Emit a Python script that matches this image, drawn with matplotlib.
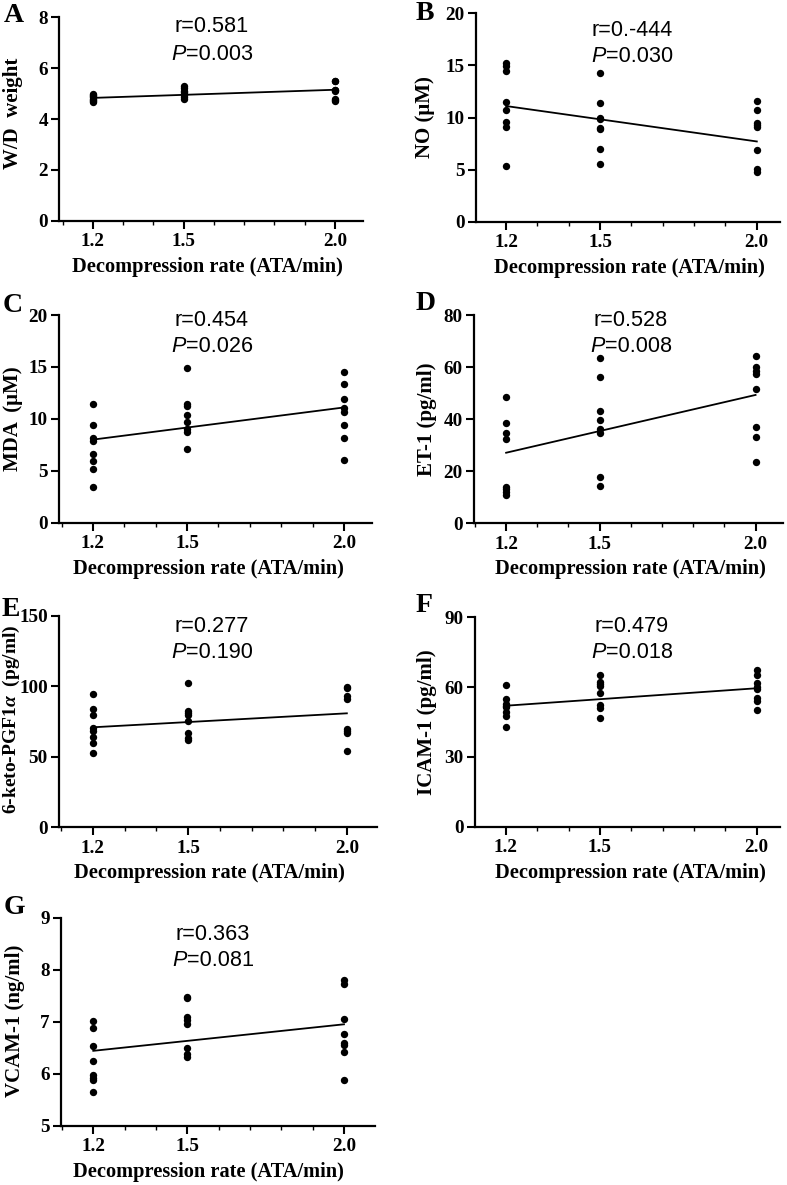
import numpy as np
import matplotlib
matplotlib.use("Agg")
import matplotlib.pyplot as plt
from matplotlib.ticker import FixedLocator
from matplotlib.offsetbox import TextArea, HPacker, AnnotationBbox

plt.rcParams["mathtext.fontset"] = "custom"
plt.rcParams["mathtext.it"] = "Liberation Serif:italic:bold"
plt.rcParams["mathtext.rm"] = "Liberation Serif:bold"
plt.rcParams["mathtext.bf"] = "Liberation Serif:bold"

# ---------------- data ----------------
rates = [1.2, 1.5, 2.0]
x_ticklabels = ["1.2", "1.5", "2.0"]
x_label = "Decompression rate (ATA/min)"

panel_letters = ["A", "B", "C", "D", "E", "F", "G"]
y_labels = ["W/D  weight", "NO (\u03bcM)", "MDA  (\u03bcM)", "ET-1 (pg/ml)",
            "6-keto-PGF1$\\alpha$  (pg/ml)", "ICAM-1 (pg/ml)", "VCAM-1 (ng/ml)"]
r_texts = ["r=0.581", "r=0.-444", "r=0.454", "r=0.528", "r=0.277", "r=0.479", "r=0.363"]
p_texts = ["=0.003", "=0.030", "=0.026", "=0.008", "=0.190", "=0.018", "=0.081"]

y_ticks_A = [0, 2, 4, 6, 8]
y_ticks_B = [0, 5, 10, 15, 20]
y_ticks_C = [0, 5, 10, 15, 20]
y_ticks_D = [0, 20, 40, 60, 80]
y_ticks_E = [0, 50, 100, 150]
y_ticks_F = [0, 30, 60, 90]
y_ticks_G = [5, 6, 7, 8, 9]

# points per group (1.2, 1.5, 2.0)
wd_12 = [4.65, 4.70, 4.75, 4.80, 4.85, 4.90, 4.95, 4.98]
wd_15 = [4.78, 4.85, 4.95, 5.00, 5.05, 5.10, 5.20, 5.28]
wd_20 = [5.50, 5.48, 5.15, 5.13, 5.10, 4.80, 4.75, 4.72]

no_12 = [15.2, 14.9, 14.5, 11.5, 10.7, 9.6, 9.1, 5.3]
no_15 = [14.3, 11.4, 10.0, 9.9, 9.0, 8.9, 7.0, 5.5]
no_20 = [11.6, 10.7, 9.5, 9.3, 9.1, 6.9, 5.1, 4.8]

mda_12 = [11.4, 9.4, 8.2, 7.9, 6.6, 5.9, 5.2, 3.4]
mda_15 = [14.9, 11.4, 11.2, 10.4, 9.7, 9.0, 8.7, 7.1]
mda_20 = [14.5, 13.4, 11.9, 11.0, 10.7, 9.4, 8.2, 6.0]

et_12 = [48.6, 38.7, 34.6, 32.4, 14.1, 13.0, 12.0, 10.9]
et_15 = [63.4, 56.1, 43.3, 39.7, 36.3, 34.8, 17.7, 14.5]
et_20 = [64.3, 60.2, 58.5, 57.4, 51.5, 37.1, 33.0, 23.7]

pgf_12 = [94.3, 83.9, 79.6, 70.2, 68.5, 64.3, 59.5, 52.9]
pgf_15 = [102.0, 82.7, 81.0, 79.6, 75.6, 66.6, 63.5, 61.9]
pgf_20 = [99.7, 98.5, 93.1, 90.7, 69.5, 68.0, 67.1, 54.3]

icam_12 = [60.9, 54.7, 52.8, 52.0, 51.3, 49.5, 47.6, 42.7]
icam_15 = [65.2, 62.3, 61.5, 60.5, 57.6, 52.3, 50.9, 46.6]
icam_20 = [67.4, 65.2, 61.9, 60.0, 59.0, 55.2, 54.0, 50.2]

vcam_12 = [7.01, 6.87, 6.53, 6.24, 5.97, 5.92, 5.88, 5.65]
vcam_15 = [7.48, 7.45, 7.10, 7.03, 6.95, 6.49, 6.38, 6.33]
vcam_20 = [7.80, 7.72, 7.06, 6.76, 6.60, 6.56, 6.42, 5.88]

# regression line values at x=1.2 and x=2.0
fit_A = [4.83, 5.15]
fit_B = [11.1, 7.7]
fit_C = [8.0, 11.1]
fit_D = [27.1, 49.3]
fit_E = [70.9, 80.8]
fit_F = [52.0, 59.5]
fit_G = [6.44, 6.95]

groups = [
    (wd_12, wd_15, wd_20), (no_12, no_15, no_20), (mda_12, mda_15, mda_20),
    (et_12, et_15, et_20), (pgf_12, pgf_15, pgf_20), (icam_12, icam_15, icam_20),
    (vcam_12, vcam_15, vcam_20),
]
fits = [fit_A, fit_B, fit_C, fit_D, fit_E, fit_F, fit_G]
yticks_all = [y_ticks_A, y_ticks_B, y_ticks_C, y_ticks_D, y_ticks_E, y_ticks_F, y_ticks_G]

# ---------------- layout (pixels) ----------------
W, H = 787, 1185
layout = [
    (59, 363, 17.3, 220.7, (1.088, 2.093)),
    (476, 780, 13.3, 221.7, (1.104, 2.074)),
    (59, 372, 315, 522.7, (1.092, 2.089)),
    (474, 783, 315, 523.3, (1.097, 2.088)),
    (59, 377, 615.7, 827.3, (1.093, 2.095)),
    (475, 780, 617.3, 826.7, (1.101, 2.075)),
    (61, 375, 917.7, 1125.7, (1.097, 2.099)),
]
text_pos = [(212, 27, 55), (632, 30, 57), (212, 320, 347), (631, 320, 346),
            (212, 627, 653), (632, 627, 653), (213, 934, 961)]
letter_pos = [(4, 15), (416, 13), (3, 305), (416, 303), (2, 610), (416, 605), (4, 908)]
ylabel_xy = [(13, 113), (425, 117), (13, 419), (427, 419), (11, 719), (427, 722), (15, 1021)]
ylabel_size = [15, 15, 15, 15, 14, 15, 15]
xlabel_cx = [207.5, 629, 208.5, 630, 209.5, 630, 208]

serif = ["Liberation Serif", "DejaVu Serif"]
sans = ["Liberation Sans", "DejaVu Sans"]

fig = plt.figure(figsize=(W / 100, H / 100), dpi=100)

for i in range(7):
    l, r, t, b, xl = layout[i]
    ax = fig.add_axes([l / W, 1 - b / H, (r - l) / W, (b - t) / H])
    g = groups[i]
    for xv, vals in zip(rates, g):
        ax.plot([xv] * len(vals), vals, "o", color="black", markersize=5.3,
                markeredgewidth=0, clip_on=False, zorder=3)
    ax.plot([rates[0], rates[-1]], fits[i], color="black", lw=1.3, zorder=2)
    yt = yticks_all[i]
    ax.set_ylim(yt[0], yt[-1])
    ax.set_xlim(*xl)
    ax.set_yticks(yt)
    ax.set_yticklabels([str(v) for v in yt], fontfamily=serif, fontweight="bold", fontsize=13.8)
    ax.set_xticks(rates)
    ax.set_xticklabels(x_ticklabels, fontfamily=serif, fontweight="bold", fontsize=13.8)
    ax.xaxis.set_minor_locator(FixedLocator([1.1, 1.3, 1.4, 1.6, 1.7, 1.8, 1.9]))
    for s in ["top", "right"]:
        ax.spines[s].set_visible(False)
    for s in ["left", "bottom"]:
        ax.spines[s].set_linewidth(1.6)
    ax.tick_params(axis="both", which="major", length=6, width=1.5, direction="out", pad=3)
    ax.tick_params(axis="y", which="major", pad=2)
    ax.tick_params(axis="x", which="minor", length=3, width=1.0, direction="out")
    ax.set_xlabel(x_label, fontfamily=serif, fontweight="bold", fontsize=14.7, va="center")
    ax.xaxis.set_label_coords((xlabel_cx[i] - l) / (r - l), -46 / (b - t))
    ax.set_ylabel(y_labels[i], fontfamily=serif, fontweight="bold",
                  fontsize=ylabel_size[i], va="center")
    lxp, lyp = ylabel_xy[i]
    ax.yaxis.set_label_coords((lxp - l) / (r - l), (b - lyp) / (b - t))

    tx, ty1, ty2 = text_pos[i]
    fig.text(tx / W, 1 - ty1 / H, r_texts[i], ha="center", va="center",
             fontfamily=sans, fontsize=15.6)
    ta1 = TextArea("P", textprops=dict(fontfamily=sans, fontstyle="italic", fontsize=15.6))
    ta2 = TextArea(p_texts[i], textprops=dict(fontfamily=sans, fontsize=15.6))
    pack = HPacker(children=[ta1, ta2], align="baseline", pad=0, sep=0)
    ab = AnnotationBbox(pack, (tx / W, 1 - ty2 / H), xycoords="figure fraction",
                        box_alignment=(0.5, 0.5), frameon=False, pad=0)
    fig.add_artist(ab)
    lx, ly = letter_pos[i]
    fig.text(lx / W, 1 - ly / H, panel_letters[i], ha="left", va="center",
             fontfamily=serif, fontweight="bold", fontsize=20)

fig.savefig("out.png", dpi=100)
